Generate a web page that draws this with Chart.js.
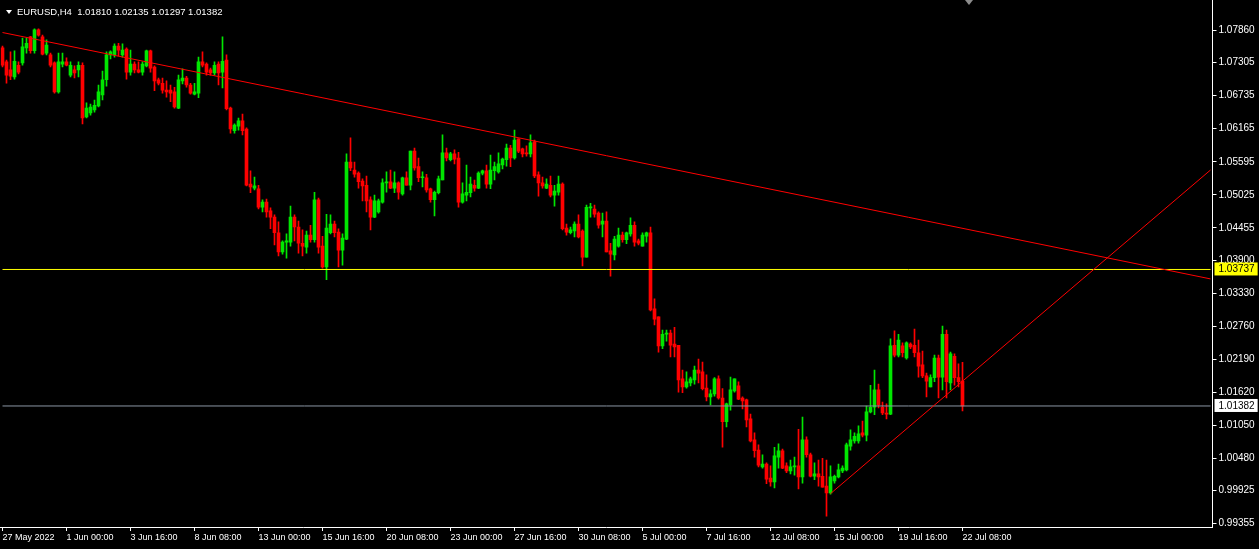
<!DOCTYPE html>
<html>
<head>
<meta charset="utf-8">
<script src="https://cdn.jsdelivr.net/npm/chart.js@4.4.1/dist/chart.umd.min.js"></script>
<style>
  html, body { margin: 0; padding: 0; background: #000; }
  #wrap { position: relative; width: 1259px; height: 549px; }
  #chart { display: block; }
  #arrow { position: absolute; left: 6px; top: 10px; width: 0; height: 0;
    border-left: 3px solid transparent; border-right: 3px solid transparent; border-top: 4px solid #fff; }
  #header { position: absolute; left: 17px; top: 6px; color: #fff; white-space: pre;
    font: 9.5px "Liberation Sans", Arial, sans-serif; }
  #shift { position: absolute; left: 965px; top: 0; width: 0; height: 0;
    border-left: 4px solid transparent; border-right: 4px solid transparent; border-top: 5px solid #8c8c8c; }
</style>
</head>
<body>
<div id="wrap">
  <canvas id="chart" width="1259" height="549"></canvas>
  <div id="arrow"></div>
  <div id="header">EURUSD,H4  1.01810 1.02135 1.01297 1.01382</div>
  <div id="shift"></div>
</div>
<script>
// EURUSD H4 candles (oldest first)
const opens = [
  1.0756, 1.0732, 1.0718, 1.0706, 1.0726, 1.0730, 1.0756, 1.0775, 1.0751, 1.0787,
  1.0775, 1.0747, 1.0744, 1.0730, 1.0680, 1.0728, 1.0732, 1.0709, 1.0718, 1.0718,
  1.0726, 1.0637, 1.0644, 1.0649, 1.0656, 1.0675, 1.0701, 1.0744, 1.0744, 1.0759,
  1.0744, 1.0754, 1.0714, 1.0728, 1.0718, 1.0714, 1.0725, 1.0751, 1.0723, 1.0701,
  1.0695, 1.0683, 1.0683, 1.0680, 1.0652, 1.0699, 1.0704, 1.0692, 1.0676, 1.0678,
  1.0732, 1.0728, 1.0718, 1.0713, 1.0728, 1.0714, 1.0735, 1.0652, 1.0613, 1.0621,
  1.0630, 1.0616, 1.0521, 1.0514, 1.0513, 1.0481, 1.0490, 1.0475, 1.0464, 1.0437,
  1.0404, 1.0421, 1.0421, 1.0464, 1.0447, 1.0419, 1.0412, 1.0433, 1.0425, 1.0494,
  1.0414, 1.0378, 1.0437, 1.0452, 1.0438, 1.0407, 1.0426, 1.0559, 1.0545, 1.0540,
  1.0526, 1.0519, 1.0494, 1.0464, 1.0473, 1.0490, 1.0523, 1.0525, 1.0514, 1.0523,
  1.0504, 1.0532, 1.0519, 1.0578, 1.0551, 1.0532, 1.0532, 1.0513, 1.0494, 1.0506,
  1.0528, 1.0575, 1.0563, 1.0573, 1.0566, 1.0490, 1.0502, 1.0506, 1.0519, 1.0514,
  1.0540, 1.0544, 1.0521, 1.0544, 1.0542, 1.0554, 1.0563, 1.0583, 1.0566, 1.0599,
  1.0582, 1.0575, 1.0573, 1.0594, 1.0537, 1.0523, 1.0514, 1.0519, 1.0502, 1.0507,
  1.0521, 1.0445, 1.0437, 1.0440, 1.0452, 1.0440, 1.0395, 1.0480, 1.0478, 1.0471,
  1.0452, 1.0457, 1.0406, 1.0399, 1.0414, 1.0433, 1.0425, 1.0435, 1.0450, 1.0423,
  1.0414, 1.0431, 1.0437, 1.0306, 1.0292, 1.0242, 1.0262, 1.0264, 1.0245, 1.0243,
  1.0185, 1.0171, 1.0178, 1.0183, 1.0200, 1.0197, 1.0169, 1.0154, 1.0159, 1.0185,
  1.0152, 1.0111, 1.0140, 1.0164, 1.0173, 1.0152, 1.0149, 1.0116, 1.0080, 1.0062,
  1.0033, 1.0038, 1.0014, 1.0007, 1.0050, 1.0061, 1.0035, 1.0026, 1.0033, 1.0035,
  1.0016, 1.0080, 1.0054, 1.0017, 1.0021, 1.0017, 1.0000, 0.9988, 1.0009, 1.0016,
  1.0026, 1.0028, 1.0069, 1.0078, 1.0078, 1.0092, 1.0088, 1.0128, 1.0136, 1.0166,
  1.0136, 1.0126, 1.0124, 1.0243, 1.0226, 1.0242, 1.0221, 1.0245, 1.0243, 1.0230,
  1.0209, 1.0190, 1.0171, 1.0187, 1.0221, 1.0188, 1.0262, 1.0178, 1.0224, 1.0187,
  1.01810
];
const highs = [
  1.0759, 1.0735, 1.0749, 1.0751, 1.0732, 1.0773, 1.0773, 1.0776, 1.0789, 1.0789,
  1.0778, 1.0770, 1.0747, 1.0732, 1.0747, 1.0747, 1.0739, 1.0732, 1.0725, 1.0732,
  1.0730, 1.0661, 1.0659, 1.0666, 1.0692, 1.0716, 1.0749, 1.0751, 1.0763, 1.0764,
  1.0763, 1.0756, 1.0752, 1.0732, 1.0732, 1.0732, 1.0752, 1.0752, 1.0725, 1.0704,
  1.0704, 1.0699, 1.0692, 1.0688, 1.0709, 1.0720, 1.0707, 1.0695, 1.0695, 1.0740,
  1.0749, 1.0730, 1.0721, 1.0732, 1.0732, 1.0775, 1.0744, 1.0654, 1.0625, 1.0635,
  1.0642, 1.0618, 1.0544, 1.0533, 1.0519, 1.0494, 1.0495, 1.0480, 1.0468, 1.0456,
  1.0423, 1.0435, 1.0483, 1.0468, 1.0457, 1.0442, 1.0440, 1.0450, 1.0507, 1.0497,
  1.0431, 1.0469, 1.0468, 1.0457, 1.0444, 1.0435, 1.0573, 1.0601, 1.0559, 1.0542,
  1.0530, 1.0535, 1.0499, 1.0502, 1.0495, 1.0530, 1.0542, 1.0545, 1.0542, 1.0525,
  1.0533, 1.0542, 1.0578, 1.0583, 1.0566, 1.0542, 1.0538, 1.0514, 1.0509, 1.0535,
  1.0606, 1.0583, 1.0576, 1.0580, 1.0576, 1.0523, 1.0554, 1.0533, 1.0528, 1.0542,
  1.0545, 1.0554, 1.0571, 1.0559, 1.0575, 1.0566, 1.0590, 1.0588, 1.0614, 1.0599,
  1.0583, 1.0587, 1.0606, 1.0597, 1.0542, 1.0533, 1.0530, 1.0535, 1.0519, 1.0535,
  1.0523, 1.0452, 1.0447, 1.0456, 1.0468, 1.0442, 1.0485, 1.0488, 1.0485, 1.0473,
  1.0471, 1.0473, 1.0419, 1.0431, 1.0445, 1.0438, 1.0438, 1.0463, 1.0456, 1.0426,
  1.0437, 1.0438, 1.0447, 1.0323, 1.0292, 1.0269, 1.0269, 1.0269, 1.0274, 1.0243,
  1.0200, 1.0197, 1.0188, 1.0207, 1.0219, 1.0214, 1.0192, 1.0166, 1.0187, 1.0190,
  1.0168, 1.0143, 1.0188, 1.0185, 1.0180, 1.0154, 1.0150, 1.0124, 1.0092, 1.0071,
  1.0054, 1.0040, 1.0035, 1.0067, 1.0073, 1.0064, 1.0040, 1.0045, 1.0050, 1.0098,
  1.0119, 1.0085, 1.0057, 1.0040, 1.0045, 1.0048, 1.0045, 1.0035, 1.0019, 1.0038,
  1.0035, 1.0074, 1.0097, 1.0092, 1.0104, 1.0112, 1.0138, 1.0174, 1.0200, 1.0176,
  1.0145, 1.0142, 1.0254, 1.0268, 1.0262, 1.0247, 1.0249, 1.0247, 1.0271, 1.0252,
  1.0233, 1.0195, 1.0192, 1.0226, 1.0226, 1.0276, 1.0269, 1.0231, 1.0228, 1.0211,
  1.02135
];
const lows = [
  1.0723, 1.0695, 1.0701, 1.0702, 1.0711, 1.0726, 1.0747, 1.0747, 1.0747, 1.0776,
  1.0744, 1.0744, 1.0723, 1.0678, 1.0678, 1.0723, 1.0725, 1.0706, 1.0704, 1.0706,
  1.0625, 1.0635, 1.0640, 1.0645, 1.0654, 1.0666, 1.0690, 1.0737, 1.0740, 1.0742,
  1.0740, 1.0702, 1.0709, 1.0713, 1.0713, 1.0709, 1.0723, 1.0714, 1.0682, 1.0692,
  1.0678, 1.0671, 1.0663, 1.0652, 1.0651, 1.0694, 1.0688, 1.0676, 1.0675, 1.0670,
  1.0723, 1.0709, 1.0709, 1.0709, 1.0692, 1.0687, 1.0649, 1.0609, 1.0609, 1.0614,
  1.0606, 1.0518, 1.0506, 1.0511, 1.0478, 1.0473, 1.0464, 1.0444, 1.0416, 1.0397,
  1.0400, 1.0393, 1.0414, 1.0423, 1.0402, 1.0397, 1.0402, 1.0421, 1.0421, 1.0402,
  1.0376, 1.0356, 1.0435, 1.0430, 1.0378, 1.0381, 1.0425, 1.0544, 1.0533, 1.0514,
  1.0492, 1.0473, 1.0442, 1.0463, 1.0471, 1.0488, 1.0507, 1.0513, 1.0506, 1.0495,
  1.0502, 1.0519, 1.0511, 1.0545, 1.0525, 1.0516, 1.0507, 1.0490, 1.0466, 1.0504,
  1.0528, 1.0561, 1.0561, 1.0556, 1.0481, 1.0488, 1.0492, 1.0499, 1.0509, 1.0513,
  1.0537, 1.0514, 1.0513, 1.0528, 1.0540, 1.0547, 1.0552, 1.0551, 1.0564, 1.0575,
  1.0568, 1.0569, 1.0568, 1.0532, 1.0500, 1.0514, 1.0513, 1.0499, 1.0483, 1.0502,
  1.0442, 1.0433, 1.0435, 1.0430, 1.0428, 1.0380, 1.0395, 1.0464, 1.0464, 1.0445,
  1.0430, 1.0404, 1.0362, 1.0390, 1.0412, 1.0421, 1.0418, 1.0431, 1.0414, 1.0416,
  1.0414, 1.0421, 1.0302, 1.0278, 1.0231, 1.0237, 1.0250, 1.0223, 1.0223, 1.0162,
  1.0161, 1.0169, 1.0173, 1.0176, 1.0178, 1.0166, 1.0147, 1.0140, 1.0155, 1.0150,
  1.0067, 1.0102, 1.0131, 1.0162, 1.0149, 1.0133, 1.0102, 1.0076, 1.0050, 1.0033,
  1.0031, 1.0004, 1.0000, 0.9997, 1.0031, 1.0030, 1.0023, 1.0021, 1.0019, 0.9995,
  1.0005, 1.0050, 1.0016, 1.0011, 1.0000, 0.9998, 0.9948, 0.9986, 1.0005, 1.0014,
  1.0023, 1.0026, 1.0062, 1.0074, 1.0074, 1.0085, 1.0078, 1.0126, 1.0123, 1.0135,
  1.0123, 1.0116, 1.0123, 1.0223, 1.0223, 1.0223, 1.0219, 1.0237, 1.0223, 1.0188,
  1.0187, 1.0154, 1.0171, 1.0180, 1.0152, 1.0166, 1.0152, 1.0166, 1.0174, 1.0171,
  1.01297
];
const closes = [
  1.0726, 1.0709, 1.0707, 1.0733, 1.0714, 1.0758, 1.0764, 1.0751, 1.0787, 1.0778,
  1.0745, 1.0761, 1.0726, 1.0680, 1.0732, 1.0732, 1.0726, 1.0726, 1.0713, 1.0726,
  1.0635, 1.0652, 1.0654, 1.0657, 1.0680, 1.0701, 1.0744, 1.0749, 1.0759, 1.0752,
  1.0752, 1.0714, 1.0728, 1.0718, 1.0714, 1.0728, 1.0751, 1.0721, 1.0699, 1.0695,
  1.0683, 1.0680, 1.0678, 1.0654, 1.0701, 1.0704, 1.0692, 1.0678, 1.0680, 1.0732,
  1.0726, 1.0714, 1.0713, 1.0726, 1.0713, 1.0733, 1.0651, 1.0616, 1.0623, 1.0630,
  1.0613, 1.0519, 1.0516, 1.0518, 1.0481, 1.0490, 1.0473, 1.0464, 1.0437, 1.0404,
  1.0421, 1.0423, 1.0464, 1.0447, 1.0419, 1.0414, 1.0433, 1.0425, 1.0494, 1.0412,
  1.0378, 1.0445, 1.0452, 1.0437, 1.0407, 1.0428, 1.0559, 1.0549, 1.0538, 1.0525,
  1.0518, 1.0492, 1.0464, 1.0492, 1.0492, 1.0523, 1.0525, 1.0514, 1.0523, 1.0507,
  1.0532, 1.0519, 1.0578, 1.0549, 1.0532, 1.0533, 1.0511, 1.0494, 1.0507, 1.0530,
  1.0575, 1.0566, 1.0573, 1.0564, 1.0490, 1.0504, 1.0507, 1.0521, 1.0514, 1.0540,
  1.0544, 1.0521, 1.0545, 1.0551, 1.0556, 1.0564, 1.0583, 1.0566, 1.0597, 1.0578,
  1.0573, 1.0573, 1.0592, 1.0535, 1.0523, 1.0518, 1.0521, 1.0502, 1.0509, 1.0521,
  1.0444, 1.0438, 1.0442, 1.0452, 1.0430, 1.0395, 1.0481, 1.0481, 1.0469, 1.0450,
  1.0457, 1.0404, 1.0400, 1.0426, 1.0433, 1.0425, 1.0437, 1.0450, 1.0421, 1.0419,
  1.0433, 1.0437, 1.0304, 1.0288, 1.0242, 1.0262, 1.0264, 1.0243, 1.0240, 1.0183,
  1.0171, 1.0180, 1.0185, 1.0200, 1.0195, 1.0168, 1.0154, 1.0159, 1.0185, 1.0152,
  1.0111, 1.0142, 1.0166, 1.0185, 1.0150, 1.0147, 1.0114, 1.0078, 1.0061, 1.0036,
  1.0038, 1.0012, 1.0007, 1.0052, 1.0061, 1.0031, 1.0026, 1.0033, 1.0035, 1.0016,
  1.0080, 1.0054, 1.0017, 1.0021, 1.0016, 0.9998, 0.9988, 1.0016, 1.0017, 1.0028,
  1.0031, 1.0071, 1.0080, 1.0086, 1.0090, 1.0088, 1.0128, 1.0136, 1.0166, 1.0140,
  1.0126, 1.0124, 1.0242, 1.0226, 1.0252, 1.0230, 1.0247, 1.0240, 1.0230, 1.0207,
  1.0190, 1.0181, 1.0187, 1.0221, 1.0188, 1.0262, 1.0180, 1.0228, 1.0187, 1.0180,
  1.01382
];

// time axis labels, one every 16 bars
const tickLabels = [
  '27 May 2022', '1 Jun 00:00', '3 Jun 16:00', '8 Jun 08:00', '13 Jun 00:00', '15 Jun 16:00',
  '20 Jun 08:00', '23 Jun 00:00', '27 Jun 16:00', '30 Jun 08:00', '5 Jul 00:00', '7 Jul 16:00',
  '12 Jul 08:00', '15 Jul 00:00', '19 Jul 16:00', '22 Jul 08:00'
];
const priceTicks = [
  1.07860, 1.07305, 1.06735, 1.06165, 1.05595, 1.05025, 1.04455, 1.03900,
  1.03330, 1.02760, 1.02190, 1.01620, 1.01050, 1.00480, 0.99925, 0.99355
];
const levelPrice = 1.03737;   // yellow horizontal line
const bidPrice = 1.01382;     // current price line
// trend lines: [barIndex, price] pairs
const downTrend = [[0, 1.07825], [302, 1.03574]];
const upTrend = [[207, 0.99870], [302, 1.05453]];

const barSlots = 303;         // visible bar slots incl. empty space on the right
const yMax = 1.08386, yMin = 0.99294;

const UP = '#00e600', DOWN = '#ff0000';
const slots = Array.from({ length: barSlots }, (_, i) => i);
const candleColors = closes.map((c, i) => c >= opens[i] ? UP : DOWN);
const font = { family: '"Liberation Sans", Arial, sans-serif', size: 9 };

new Chart(document.getElementById('chart'), {
  type: 'bar',
  data: {
    labels: slots,
    datasets: [
      {
        type: 'line', order: 0, data: downTrend.map(p => ({ x: p[0], y: p[1] })),
        borderColor: '#ff0000', borderWidth: 1, pointRadius: 0
      },
      {
        type: 'line', order: 0, data: upTrend.map(p => ({ x: p[0], y: p[1] })),
        borderColor: '#ff0000', borderWidth: 1, pointRadius: 0
      },
      {
        type: 'line', order: 0, data: [{ x: 0, y: levelPrice }, { x: barSlots - 1, y: levelPrice }],
        borderColor: '#ffff00', borderWidth: 1, pointRadius: 0
      },
      {
        type: 'line', order: 0, data: [{ x: 0, y: bidPrice }, { x: barSlots - 1, y: bidPrice }],
        borderColor: '#8a96a3', borderWidth: 1, pointRadius: 0
      },
      {
        // candle bodies
        order: 1, grouped: false, barThickness: 3, minBarLength: 1,
        data: opens.map((o, i) => [Math.min(o, closes[i]), Math.max(o, closes[i])]),
        backgroundColor: candleColors, borderWidth: 0
      },
      {
        // wicks
        order: 2, grouped: false, barThickness: 1,
        data: lows.map((l, i) => [l, highs[i]]),
        backgroundColor: candleColors, borderWidth: 0
      }
    ]
  },
  options: {
    responsive: false,
    animation: false,
    events: [],
    layout: { padding: { left: 0.5, top: 0, right: 0, bottom: 0 } },
    plugins: { legend: { display: false }, tooltip: { enabled: false } },
    scales: {
      x: {
        type: 'category',
        offset: true,
        grid: { drawOnChartArea: false, drawTicks: true, tickLength: 4, color: '#ffffff', offset: false },
        border: { display: true, color: '#ffffff' },
        ticks: {
          autoSkip: false, maxRotation: 0, minRotation: 0, align: 'start', padding: 1,
          color: '#ffffff', font: font,
          callback: v => tickLabels[v / 16]
        },
        afterBuildTicks: axis => {
          axis.ticks = axis.ticks.filter(t => t.value % 16 === 0 && t.value / 16 < tickLabels.length);
        },
        afterFit: axis => { axis.height = 22; axis.paddingLeft = 0; axis.paddingRight = 0; }
      },
      y: {
        position: 'right',
        min: yMin, max: yMax, bounds: 'data',
        grid: {
          drawOnChartArea: false, drawTicks: true, tickLength: 4,
          color: ctx => (ctx.tick && ctx.tick.marker) ? 'rgba(0,0,0,0)' : '#ffffff'
        },
        border: { display: true, color: '#ffffff' },
        ticks: {
          autoSkip: false, padding: 2, font: { family: font.family, size: 10 },
          color: ctx => (ctx.tick && ctx.tick.marker) ? '#000000' : '#ffffff',
          showLabelBackdrop: ctx => !!(ctx.tick && ctx.tick.marker),
          backdropColor: ctx => (ctx.tick && ctx.tick.marker) || 'rgba(0,0,0,0)',
          backdropPadding: { left: 4, right: 3, top: 1, bottom: 0 },
          callback: v => v.toFixed(5)
        },
        afterBuildTicks: axis => {
          axis.ticks = priceTicks.map(v => ({ value: v })).concat([
            { value: levelPrice, marker: '#ffff00' },
            { value: bidPrice, marker: '#ffffff' }
          ]);
        },
        afterFit: axis => { axis.width = 46.5; axis.paddingTop = 0; axis.paddingBottom = 0; }
      }
    }
  }
});
</script>
</body>
</html>
